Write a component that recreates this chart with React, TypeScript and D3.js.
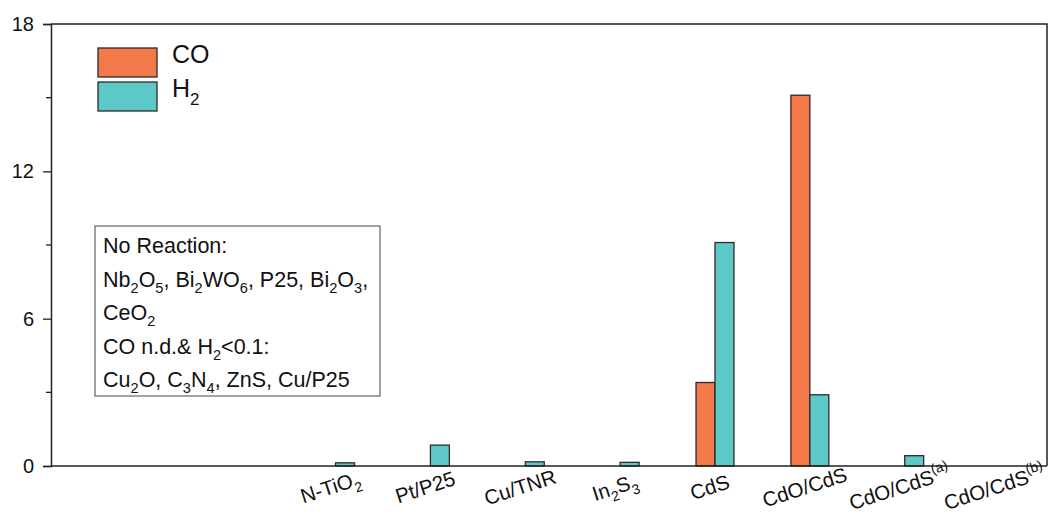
import React, { useRef, useEffect } from 'react';
import * as d3 from 'd3';

// categories along x (the first three slots on the axis are left empty)
const categories = ['N-TiO2', 'Pt/P25', 'Cu/TNR', 'In2S3', 'CdS', 'CdO/CdS', 'CdO/CdS(a)', 'CdO/CdS(b)'];
const coValues = [0, 0, 0, 0, 3.4, 15.1, 0, 0];
const h2Values = [0.13, 0.85, 0.17, 0.15, 9.1, 2.9, 0.42, 0];
const yTicks = [0, 6, 12, 18];
const yMinorTicks = [3, 9, 15];

// label pieces: [text, 'n' | 'sub' | 'sup']
const labelParts: [string, string][][] = [
  [['N-TiO', 'n'], ['2', 'sub']],
  [['Pt/P25', 'n']],
  [['Cu/TNR', 'n']],
  [['In', 'n'], ['2', 'sub'], ['S', 'n'], ['3', 'sub']],
  [['CdS', 'n']],
  [['CdO/CdS', 'n']],
  [['CdO/CdS', 'n'], ['(a)', 'sup']],
  [['CdO/CdS', 'n'], ['(b)', 'sup']],
];

const noteLines: [string, string][][] = [
  [['No Reaction:', 'n']],
  [['Nb', 'n'], ['2', 'sub'], ['O', 'n'], ['5', 'sub'], [', Bi', 'n'], ['2', 'sub'], ['WO', 'n'], ['6', 'sub'], [', P25, Bi', 'n'], ['2', 'sub'], ['O', 'n'], ['3', 'sub'], [',', 'n']],
  [['CeO', 'n'], ['2', 'sub']],
  [['CO n.d.& H', 'n'], ['2', 'sub'], ['<0.1:', 'n']],
  [['Cu', 'n'], ['2', 'sub'], ['O, C', 'n'], ['3', 'sub'], ['N', 'n'], ['4', 'sub'], [', ZnS, Cu/P25', 'n']],
];

const CO_COLOR = '#F4794A';
const H2_COLOR = '#5EC8C9';
const FONT = '"Liberation Sans", Arial, sans-serif';

function addRich(sel: any, parts: [string, string][], size: number) {
  let shift = 0;
  sel.attr('font-size', size);
  parts.forEach(([t, kind]) => {
    const target = kind === 'sub' ? size * 0.3 : kind === 'sup' ? -size * 0.45 : 0;
    sel.append('tspan')
      .attr('dy', target - shift)
      .attr('font-size', kind === 'n' ? size : size * 0.68)
      .text(t);
    shift = target;
  });
}

function App() {
  const svgRef = useRef<SVGSVGElement>(null);

  useEffect(() => {
    const svg = d3.select(svgRef.current);
    svg.selectAll('*').remove();

    const width = 1064;
    const height = 520;
    const margin = { top: 24, right: 17, bottom: 54, left: 51 };

    const x = d3.scaleLinear()
      .domain([0, 10.5])
      .range([margin.left, width - margin.right]);

    const y = d3.scaleLinear()
      .domain([0, 18])
      .range([height - margin.bottom, margin.top]);

    const offset = 3;
    const barW = 0.2;

    const rows = categories.map((c, i) => ({ c, i, co: coValues[i], h2: h2Values[i] }));

    // bars
    svg.append('g')
      .selectAll('rect')
      .data(rows.filter(d => d.co > 0))
      .join('rect')
      .attr('x', d => x(d.i + offset - barW))
      .attr('y', d => y(d.co))
      .attr('width', x(barW) - x(0))
      .attr('height', d => y(0) - y(d.co))
      .attr('fill', CO_COLOR)
      .attr('stroke', '#2a2a2a')
      .attr('stroke-width', 1.3);

    svg.append('g')
      .selectAll('rect')
      .data(rows.filter(d => d.h2 > 0))
      .join('rect')
      .attr('x', d => x(d.i + offset))
      .attr('y', d => y(d.h2))
      .attr('width', x(barW) - x(0))
      .attr('height', d => y(0) - y(d.h2))
      .attr('fill', H2_COLOR)
      .attr('stroke', '#2a2a2a')
      .attr('stroke-width', 1.3);

    // frame
    const x0 = margin.left, x1 = width - margin.right;
    const y0 = height - margin.bottom, y1 = margin.top;
    svg.append('path')
      .attr('d', `M${x0},${y1}H${x1}V${y0}`)
      .attr('fill', 'none')
      .attr('stroke', '#222')
      .attr('stroke-width', 1.5);

    // y axis
    const yAxis = svg.append('g')
      .attr('transform', `translate(${margin.left},0)`)
      .call(d3.axisLeft(y).tickValues(yTicks).tickSize(8).tickPadding(9).tickFormat(d3.format('d')));
    yAxis.select('.domain').attr('stroke', '#222').attr('stroke-width', 1.5);
    yAxis.selectAll('.tick line').attr('stroke', '#222').attr('stroke-width', 1.3);
    yAxis.selectAll('.tick text')
      .attr('font-size', 20)
      .attr('font-family', FONT)
      .attr('fill', '#111');

    svg.append('g')
      .selectAll('line')
      .data(yMinorTicks)
      .join('line')
      .attr('x1', margin.left - 5)
      .attr('x2', margin.left)
      .attr('y1', d => y(d))
      .attr('y2', d => y(d))
      .attr('stroke', '#222')
      .attr('stroke-width', 1.3);

    // x axis baseline
    svg.append('line')
      .attr('x1', x0).attr('x2', x1)
      .attr('y1', y0).attr('y2', y0)
      .attr('stroke', '#222')
      .attr('stroke-width', 1.5);

    // x labels, rotated
    rows.forEach(d => {
      const cx = x(d.i + offset) - 3;
      const t = svg.append('text')
        .attr('transform', `translate(${cx},${y0 + 28}) rotate(-18)`)
        .attr('text-anchor', 'middle')
        .attr('dy', '0.35em')
        .attr('font-family', FONT)
        .attr('fill', '#111');
      addRich(t, labelParts[d.i], 20.5);
    });

    // legend
    const legend = svg.append('g').attr('font-family', FONT);
    [['CO', CO_COLOR], ['H', H2_COLOR]].forEach(([name, col], i) => {
      legend.append('rect')
        .attr('x', 98).attr('y', 48 + i * 34)
        .attr('width', 59).attr('height', 29)
        .attr('fill', col)
        .attr('stroke', '#2a2a2a')
        .attr('stroke-width', 1.3);
      const t = legend.append('text')
        .attr('x', 172).attr('y', 63 + i * 34)
        .attr('dy', '0.35em')
        .attr('fill', '#111');
      if (i === 0) addRich(t, [[name, 'n']], 25);
      else addRich(t, [['H', 'n'], ['2', 'sub']], 25);
    });

    // note box
    const note = svg.append('g').attr('font-family', FONT);
    note.append('rect')
      .attr('x', 95).attr('y', 226)
      .attr('width', 285).attr('height', 170)
      .attr('fill', 'white')
      .attr('stroke', '#444')
      .attr('stroke-width', 1);
    noteLines.forEach((line, i) => {
      const t = note.append('text')
        .attr('x', 103).attr('y', 253 + i * 33.5)
        .attr('fill', '#111');
      addRich(t, line, 21.5);
    });
  }, []);

  return (
    <svg ref={svgRef} width={1064} height={520} style={{ display: 'block', margin: -8 }}></svg>
  );
}

export default App;
